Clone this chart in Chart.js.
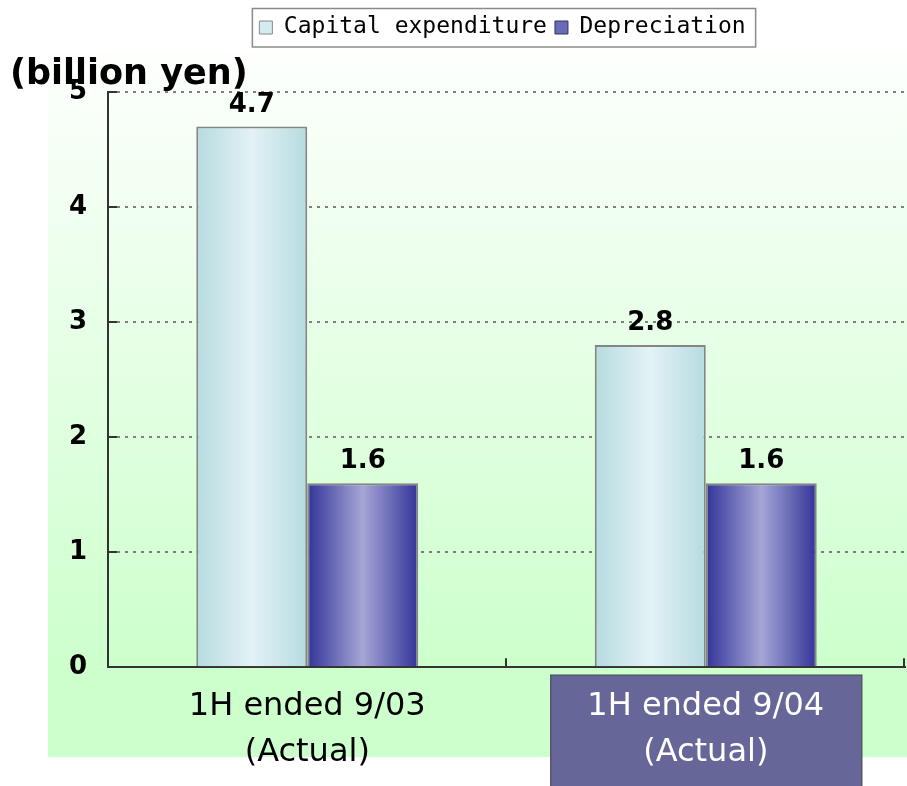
<!DOCTYPE html>
<html>
<head>
<meta charset="utf-8">
<script src="https://cdn.jsdelivr.net/npm/chart.js@4.4.1/dist/chart.umd.min.js"></script>
<style>
html,body{margin:0;padding:0;background:#fff;}
#wrap{width:907px;height:786px;position:relative;}
</style>
</head>
<body>
<div id="wrap"><canvas id="c" width="907" height="786"></canvas></div>
<script>
// ---- data ----
const categories = [['1H ended 9/03', '(Actual)'], ['1H ended 9/04', '(Actual)']];
const seriesNames = ['Capital expenditure', 'Depreciation'];
const capexValues = [4.7, 2.8];
const depreciationValues = [1.6, 1.6];
const yTicks = [0, 1, 2, 3, 4, 5];
const unitLabel = '(billion yen)';
const highlightedCategory = 1;

// ---- styling ----
const CAT_PCT = 0.557;
const capexStops = [[0, '#b6dbe0'], [0.5, '#e3f2f5'], [1, '#b6dbe0']];
const depStops = [[0, '#333399'], [0.5, '#a6a6d6'], [1, '#333399']];

function barFill(stops) {
  return function (c) {
    const chart = c.chart, xs = chart.scales && chart.scales.x;
    if (c.type !== 'data' || !xs || !chart.chartArea) return stops[1][1];
    const n = xs.getLabels().length;
    const step = xs.width / n;
    const group = step * CAT_PCT;
    const bw = group / chart.data.datasets.length;
    const left = xs.getPixelForValue(c.dataIndex) - group / 2 + c.datasetIndex * bw;
    if (!isFinite(left) || !(bw > 0)) return stops[1][1];
    const g = chart.ctx.createLinearGradient(left, 0, left + bw, 0);
    stops.forEach(([o, col]) => g.addColorStop(o, col));
    return g;
  };
}

const backdrop = {
  id: 'backdrop',
  beforeDraw(chart) {
    const {ctx, width, height} = chart;
    const xs = chart.scales.x;
    ctx.save();
    ctx.fillStyle = '#ffffff';
    ctx.fillRect(0, 0, width, height);
    const top = 52, bottom = 757, left = 48;
    const g = ctx.createLinearGradient(0, top, 0, bottom);
    g.addColorStop(0, '#fdfffd');
    g.addColorStop(0.88, '#ccffcc');
    g.addColorStop(1, '#ccffcc');
    ctx.fillStyle = g;
    ctx.fillRect(left, top, width - left, bottom - top);
    const cx = xs.getPixelForValue(highlightedCategory);
    ctx.fillStyle = '#666699';
    ctx.fillRect(cx - 155, xs.top + 8, 311, height);
    ctx.strokeStyle = '#555566';
    ctx.lineWidth = 1.5;
    ctx.strokeRect(cx - 155, xs.top + 8, 311, height);
    ctx.restore();
  }
};

const legendSpacer = {
  id: 'legendSpacer',
  beforeLayout(chart) {
    const lg = chart.legend;
    if (lg && !lg._spaced) {
      const f = lg.fit;
      lg.fit = function () { f.call(this); this.height = 84; };
      lg._spaced = true;
    }
  },
  afterLayout(chart) {
    const lg = chart.legend;
    if (lg) { lg.left = 100; lg.width = lg.right - lg.left; }
  }
};

const decorations = {
  id: 'decorations',
  afterDatasetsDraw(chart) {
    const ctx = chart.ctx;
    const xs = chart.scales.x, ys = chart.scales.y;
    ctx.save();
    // value labels
    ctx.font = 'bold 26px "DejaVu Sans"';
    ctx.fillStyle = '#000';
    ctx.textAlign = 'center';
    ctx.textBaseline = 'alphabetic';
    chart.data.datasets.forEach((ds, di) => {
      chart.getDatasetMeta(di).data.forEach((el, i) => {
        ctx.fillText(ds.data[i].toFixed(1), el.x, el.y - 15);
      });
    });
    // inner tick stubs
    ctx.strokeStyle = '#333';
    ctx.lineWidth = 2;
    ctx.beginPath();
    ys.ticks.forEach(t => {
      const y = Math.round(ys.getPixelForValue(t.value));
      ctx.moveTo(ys.right, y); ctx.lineTo(ys.right + 9, y);
    });
    const n = xs.getLabels().length;
    const step = xs.width / n;
    for (let i = 0; i < n; i++) {
      const x = Math.round(xs.getPixelForValue(i) + step / 2) - 1;
      ctx.moveTo(x, xs.top); ctx.lineTo(x, xs.top - 9);
    }
    ctx.stroke();
    ctx.restore();
  },
  afterDraw(chart) {
    const ctx = chart.ctx;
    ctx.save();
    // unit label
    ctx.font = 'bold 35px "DejaVu Sans"';
    ctx.fillStyle = '#000';
    ctx.textAlign = 'left';
    ctx.textBaseline = 'alphabetic';
    ctx.fillText(unitLabel, 10, 84);
    // legend frame
    const hb = chart.legend && chart.legend.legendHitBoxes;
    if (hb && hb.length) {
      const l = hb[0].left - 7;
      const last = hb[hb.length - 1];
      const r = last.left + last.width + 10;
      ctx.strokeStyle = '#8a8a8a';
      ctx.lineWidth = 1.5;
      ctx.strokeRect(l, 8.5, r - l, 38.5);
    }
    ctx.restore();
  }
};

Chart.defaults.font.family = '"DejaVu Sans"';
Chart.defaults.color = '#000';

new Chart(document.getElementById('c'), {
  type: 'bar',
  data: {
    labels: categories,
    datasets: [
      {
        label: seriesNames[0],
        data: capexValues,
        backgroundColor: barFill(capexStops),
        borderColor: '#858585',
        borderWidth: 2,
        categoryPercentage: CAT_PCT,
        barPercentage: 1.0
      },
      {
        label: seriesNames[1],
        data: depreciationValues,
        backgroundColor: barFill(depStops),
        borderColor: '#858585',
        borderWidth: 2,
        categoryPercentage: CAT_PCT,
        barPercentage: 1.0
      }
    ]
  },
  options: {
    responsive: false,
    animation: false,
    events: [],
    devicePixelRatio: 1,
    layout: { padding: { left: 48, right: 2, top: 8, bottom: -6 } },
    plugins: {
      title: { display: false },
      tooltip: { enabled: false },
      legend: {
        display: true,
        position: 'top',
        align: 'center',
        labels: {
          font: { family: '"DejaVu Sans Mono"', size: 23 },
          color: '#000',
          boxWidth: 13,
          boxHeight: 13,
          padding: 8,
          generateLabels: () => [
            { text: seriesNames[0], fillStyle: '#d3ecef', strokeStyle: '#888', lineWidth: 1, hidden: false, datasetIndex: 0 },
            { text: seriesNames[1], fillStyle: '#6a6ab6', strokeStyle: '#333366', lineWidth: 1, hidden: false, datasetIndex: 1 }
          ]
        }
      }
    },
    scales: {
      x: {
        offset: true,
        grid: { display: false, drawTicks: false },
        border: { display: true, color: '#333', width: 2 },
        ticks: {
          autoSkip: false,
          maxRotation: 0,
          padding: 16,
          font: { size: 32, lineHeight: 1.45 },
          color: (c) => c.index === highlightedCategory ? '#ffffff' : '#000000'
        }
      },
      y: {
        min: 0,
        max: 5,
        afterBuildTicks: (s) => { s.ticks = yTicks.map(v => ({ value: v })); },
        afterFit: (s) => { s.width = 60; },
        grid: { display: true, drawTicks: false, color: '#808080', lineWidth: 2 },
        border: { display: true, color: '#333', width: 2, dash: [3, 5] },
        ticks: {
          padding: 21,
          font: { size: 26, weight: 'bold' },
          color: '#000'
        }
      }
    }
  },
  plugins: [backdrop, legendSpacer, decorations]
});
</script>
</body>
</html>
